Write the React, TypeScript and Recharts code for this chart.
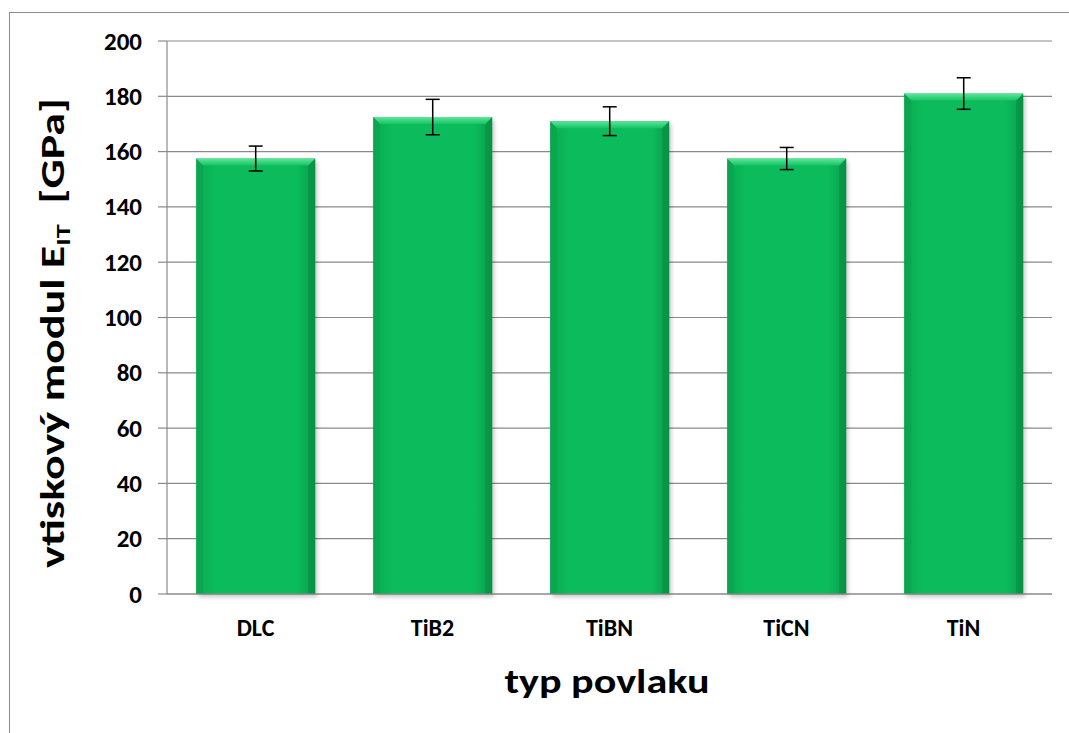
import { BarChart, Bar, XAxis, YAxis, CartesianGrid, ErrorBar } from 'recharts';

const coatings = ['DLC', 'TiB2', 'TiBN', 'TiCN', 'TiN'];
const modulus = [157.5, 172.5, 171, 157.5, 181];
const spread = [4.5, 6.4, 5.2, 4, 5.7];
const yTicks = [0, 20, 40, 60, 80, 100, 120, 140, 160, 180, 200];

const data = coatings.map((name, i) => ({ name, value: modulus[i], err: spread[i] }));

const FONT = "Carlito, 'Open Sans', sans-serif";

const BevelBar = (props: any) => {
  const { x, y, width, height } = props;
  if (!height || height <= 0) return null;
  const b = 7;
  return (
    <g>
      <rect x={x + 2} y={y + 3} width={width} height={height} fill="#000" opacity={0.22} filter="url(#barShadow)" />
      <rect x={x} y={y} width={width} height={height} fill="url(#barBody)" />
      <polygon points={`${x},${y} ${x + b},${y + b} ${x + b},${y + height} ${x},${y + height}`} fill="#0a9f4c" opacity={0.5} />
      <polygon points={`${x + width},${y} ${x + width - b},${y + b} ${x + width - b},${y + height} ${x + width},${y + height}`} fill="#07853d" opacity={0.5} />
      <polygon points={`${x},${y} ${x + width},${y} ${x + width - b},${y + b} ${x + b},${y + b}`} fill="url(#barTop)" />
    </g>
  );
};

const XTick = (props: any) => {
  const { x, y, payload } = props;
  return (
    <text x={x} y={y} textAnchor="middle" fontFamily={FONT} fontWeight="bold" fontSize={24} fill="#000">
      {payload.value}
    </text>
  );
};

const YTick = (props: any) => {
  const { x, y, payload } = props;
  return (
    <text x={x} y={y} textAnchor="end" dominantBaseline="central" fontFamily={FONT} fontWeight="bold" fontSize={25} fill="#000">
      {payload.value}
    </text>
  );
};

const YTitle = () => (
  <text
    x={64}
    y={333}
    transform="rotate(-90 64 333)"
    textAnchor="middle"
    fontFamily={FONT}
    fontWeight="bold"
    fontSize={34}
    fill="#000"
    textLength={470}
    lengthAdjust="spacingAndGlyphs"
  >
    vtiskový modul E
    <tspan fontSize={21} dy={6}>IT</tspan>
    <tspan dy={-6} xmlSpace="preserve">{'  [GPa]'}</tspan>
  </text>
);

const XTitle = () => (
  <text
    x={607}
    y={693}
    textAnchor="middle"
    fontFamily={FONT}
    fontWeight="bold"
    fontSize={35}
    fill="#000"
    textLength={205}
    lengthAdjust="spacingAndGlyphs"
  >
    typ povlaku
  </text>
);

export default function App() {
  return (
    <div style={{ position: 'absolute', left: 0, top: 0, width: 1069, height: 733, overflow: 'hidden', background: '#fff' }}>
      <div style={{ position: 'absolute', left: 9, top: 12, width: 1100, height: 800, border: '1px solid #8c8c8c' }} />
      <div style={{ position: 'absolute', left: 0, top: 0 }}>
        <BarChart
          width={1069}
          height={733}
          data={data}
          margin={{ top: 41, right: 17, bottom: 99, left: 107 }}
          barCategoryGap="16.5%"
        >
          <defs>
            <linearGradient id="barBody" x1="0" y1="0" x2="1" y2="0">
              <stop offset="0%" stopColor="#0aa852" />
              <stop offset="15%" stopColor="#0cbb5b" />
              <stop offset="85%" stopColor="#0cbb5b" />
              <stop offset="100%" stopColor="#099e4c" />
            </linearGradient>
            <linearGradient id="barTop" x1="0" y1="0" x2="0" y2="1">
              <stop offset="0%" stopColor="#5fe69c" />
              <stop offset="100%" stopColor="#15c463" />
            </linearGradient>
            <filter id="barShadow" x="-10%" y="-10%" width="120%" height="120%">
              <feGaussianBlur stdDeviation="2" />
            </filter>
          </defs>
          <CartesianGrid vertical={false} stroke="#8a8a8a" strokeWidth={1.2} />
          <XAxis
            dataKey="name"
            axisLine={{ stroke: '#8a8a8a', strokeWidth: 1.2 }}
            tickLine={false}
            height={40}
            tick={<XTick />}
            tickMargin={36}
            label={{ content: () => <XTitle /> }}
          />
          <YAxis
            domain={[0, 200]}
            ticks={yTicks}
            width={60}
            interval={0}
            axisLine={{ stroke: '#8a8a8a', strokeWidth: 1.2 }}
            tickLine={{ stroke: '#8a8a8a', strokeWidth: 1.2 }}
            tickSize={9}
            tickMargin={16}
            tick={<YTick />}
            label={{ content: () => <YTitle /> }}
          />
          <Bar dataKey="value" shape={<BevelBar />} isAnimationActive={false}>
            <ErrorBar dataKey="err" width={7} stroke="#000" strokeWidth={1.5} direction="y" />
          </Bar>
        </BarChart>
      </div>
    </div>
  );
}
